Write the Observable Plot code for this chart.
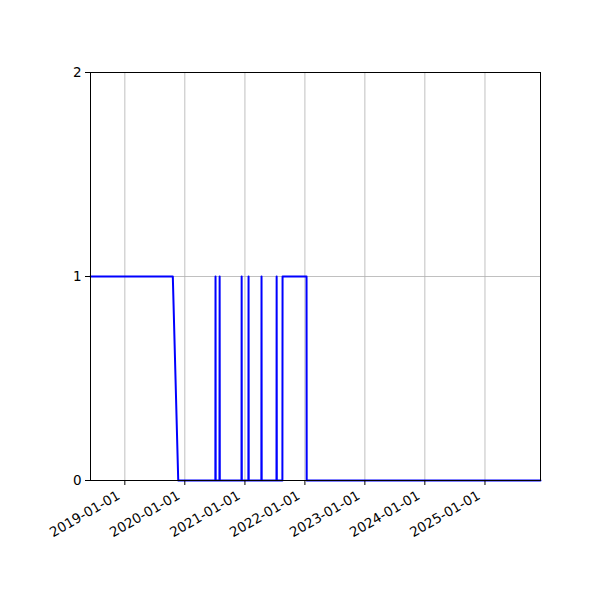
<!DOCTYPE html>
<html>
<head>
<meta charset="utf-8">
<script src="https://cdn.jsdelivr.net/npm/d3@7"></script>
<script src="https://cdn.jsdelivr.net/npm/@observablehq/plot@0.6"></script>
<style>
  html, body { margin: 0; padding: 0; background: #fff; }
  #chart { width: 600px; height: 600px; }
  svg { font-family: "DejaVu Sans", sans-serif; }
</style>
</head>
<body>
<div id="chart"></div>
<script>
// Data
const dates = [
  "2018-06-06", "2019-10-20", "2019-11-22",
  "2020-07-05", "2020-07-06", "2020-07-07",
  "2020-07-30", "2020-07-31", "2020-08-01",
  "2020-12-11", "2020-12-12", "2020-12-13",
  "2021-01-22", "2021-01-23", "2021-01-24",
  "2021-04-11", "2021-04-12", "2021-04-13",
  "2021-07-12", "2021-07-13", "2021-07-14",
  "2021-08-17", "2021-08-18", "2022-01-11", "2022-01-12",
  "2025-12-05"
];
const values = [
  1, 1, 0,
  0, 1, 0,
  0, 1, 0,
  0, 1, 0,
  0, 1, 0,
  0, 1, 0,
  0, 1, 0,
  0, 1, 1, 0,
  0
];
const xTickLabels = ["2019-01-01", "2020-01-01", "2021-01-01", "2022-01-01", "2023-01-01", "2024-01-01", "2025-01-01"];
const yTicks = [0, 1, 2];
const xDomain = ["2018-06-06", "2025-12-05"];

const parse = d3.utcParse("%Y-%m-%d");
const data = dates.map((d, i) => ({date: parse(d), value: values[i]}));
const xTicks = xTickLabels.map(parse);

const chart = Plot.plot({
  width: 600,
  height: 600,
  marginLeft: 90,
  marginRight: 60,
  marginTop: 72,
  marginBottom: 120,
  style: {fontFamily: "DejaVu Sans, sans-serif", fontSize: "13.5px", color: "#000", background: "#fff"},
  x: {type: "utc", domain: xDomain.map(parse)},
  y: {domain: [0, 2]},
  marks: [
    Plot.gridX(xTicks, {stroke: "#b0b0b0", strokeOpacity: 1, strokeWidth: 0.8}),
    Plot.gridY(yTicks, {stroke: "#b0b0b0", strokeOpacity: 1, strokeWidth: 0.8}),
    Plot.line(data, {x: "date", y: "value", stroke: "#0000ff", strokeWidth: 2, curve: "linear"}),
    Plot.frame({stroke: "#000", strokeWidth: 1}),
    // tick marks
    Plot.axisX({ticks: xTicks, tickFormat: () => "", tickSize: 5, label: null}),
    // rotated tick labels
    Plot.axisX({ticks: xTicks, tickFormat: d3.utcFormat("%Y-%m-%d"), tickRotate: -30, tickSize: 0, tickPadding: 9, label: null, fontSize: 13.5, dx: -6, dy: 5}),
    Plot.axisY({ticks: yTicks, tickFormat: d3.format("d"), tickSize: 5, tickPadding: 4, label: null, fontSize: 13.5})
  ]
});
document.getElementById("chart").appendChild(chart);
</script>
</body>
</html>
